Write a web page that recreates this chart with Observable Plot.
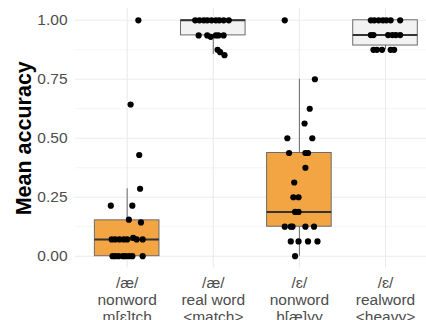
<!DOCTYPE html>
<html><head><meta charset="utf-8">
<script src="https://cdn.jsdelivr.net/npm/d3@7"></script>
<script src="https://cdn.jsdelivr.net/npm/@observablehq/plot@0.6"></script>
<style>
body{margin:0;background:#fff}
#chart svg{display:block}
g[aria-label="y-axis label"] text{font-size:21.5px;font-weight:bold;fill:#000}
</style></head><body><div id="chart"></div>
<script>
// Categories (x tick labels) and word type
const categories = ["/æ/\nnonword\nm[ɛ]tch", "/æ/\nreal word\n<match>", "/ɛ/\nnonword\nh[æ]vy", "/ɛ/\nrealword\n<heavy>"];
const wordType = ["nonword", "real word", "nonword", "real word"];

// Box statistics
const whiskerLow  = [0.000, 0.855, 0.000, 0.875];
const quartile1   = [0.000, 0.936, 0.125, 0.893];
const medians     = [0.071, 1.000, 0.1875, 0.9375];
const quartile3   = [0.152, 1.000, 0.4375, 1.000];
const whiskerHigh = [0.286, 1.000, 0.750, 1.000];

// Individual (jittered) points: values and horizontal jitter (category units)
const g1Values = [1.0, 0.643, 0.429, 0.286, 0.214, 0.214, 0.155, 0.143,
  0.071, 0.071, 0.071, 0.071, 0.071, 0.078, 0.071, 0.071,
  0, 0, 0, 0, 0, 0, 0, 0];
const g1Jitter = [0.13, 0.04, 0.14, 0.15, -0.19, 0.06, 0.02, 0.16,
  -0.18, -0.14, -0.09, -0.04, 0.0, 0.07, 0.11, 0.18,
  -0.17, -0.14, -0.10, -0.05, -0.02, 0.02, 0.06, 0.18];

const g2Values = [1, 1, 1, 1, 1, 1, 1, 1, 1,
  0.936, 0.936, 0.930, 0.936, 0.936, 0.936,
  0.875, 0.865, 0.852];
const g2Jitter = [-0.21, -0.16, -0.11, -0.07, -0.02, 0.03, 0.07, 0.12, 0.18,
  -0.17, -0.07, -0.03, 0.03, 0.06, 0.12,
  0.05, 0.08, 0.13];

const g3Values = [1.0, 0.75, 0.625, 0.5625, 0.5, 0.5, 0.4375, 0.4375, 0.4375,
  0.375, 0.3125, 0.25, 0.25, 0.1875, 0.1875,
  0.125, 0.125, 0.125, 0.125, 0.125,
  0.0625, 0.0625, 0.0625, 0.0625, 0];
const g3Jitter = [-0.17, 0.18, 0.12, 0.06, -0.14, 0.15, -0.12, 0.07, 0.10,
  0.07, -0.06, -0.07, -0.01, -0.05, -0.01,
  -0.17, -0.10, -0.08, 0.07, 0.17,
  -0.10, -0.01, 0.10, 0.21, -0.05];

const g4Values = [1, 1, 1, 1, 1, 1, 1,
  0.9375, 0.9375, 0.9375, 0.9375, 0.9375, 0.9375,
  0.875, 0.875, 0.875, 0.875, 0.875];
const g4Jitter = [-0.17, -0.13, -0.08, -0.03, 0.01, 0.06, 0.17,
  -0.17, -0.14, 0.03, 0.08, 0.12, 0.17,
  -0.14, -0.10, -0.04, 0.06, 0.10];

const majorTicks = [0, 0.25, 0.5, 0.75, 1];
const minorTicks = [0.125, 0.375, 0.625, 0.875];

// Build tables
const boxes = categories.map((c, i) => ({
  pos: i + 1, type: wordType[i],
  lo: whiskerLow[i], q1: quartile1[i], med: medians[i], q3: quartile3[i], hi: whiskerHigh[i]
}));
const groups = [[g1Values, g1Jitter], [g2Values, g2Jitter], [g3Values, g3Jitter], [g4Values, g4Jitter]];
const points = groups.flatMap(([vals, jit], i) => vals.map((v, j) => ({x: i + 1 + jit[j], y: v})));

const half = 0.375;
const chart = Plot.plot({
  width: 426, height: 320,
  marginLeft: 75, marginRight: 0, marginTop: 8, marginBottom: 52.5,
  style: {fontFamily: "'Liberation Sans', Arial, sans-serif", fontSize: "15.5px", background: "#fff", color: "#4d4d4d"},
  x: {domain: [0.4, 4.476]},
  y: {domain: [-0.05, 1.05]},
  color: {domain: ["nonword", "real word"], range: ["#F3A443", "#F2F2F2"]},
  marks: [
    Plot.gridY(minorTicks, {stroke: "#eeeeee", strokeOpacity: 1, strokeWidth: 0.6}),
    Plot.gridY(majorTicks, {stroke: "#ebebeb", strokeOpacity: 1, strokeWidth: 1.1}),
    Plot.gridX([1, 2, 3, 4], {stroke: "#ebebeb", strokeOpacity: 1, strokeWidth: 1.1}),
    Plot.ruleX(boxes, {x: "pos", y1: "lo", y2: "hi", stroke: "#6b6b6b", strokeWidth: 1}),
    Plot.rect(boxes, {x1: d => d.pos - half, x2: d => d.pos + half, y1: "q1", y2: "q3", fill: "type", stroke: "#6b6b6b", strokeWidth: 1}),
    Plot.ruleY(boxes, {y: "med", x1: d => d.pos - half, x2: d => d.pos + half, stroke: "#333", strokeWidth: 2}),
    Plot.dot(points, {x: "x", y: "y", r: 3.1, fill: "#000", stroke: null}),
    Plot.axisY(majorTicks, {tickSize: 0, tickPadding: 8, tickFormat: d3.format(".2f"),
      label: "Mean accuracy", labelAnchor: "center", labelArrow: "none", labelOffset: 60}),
    Plot.axisX([1, 2, 3, 4], {tickSize: 0, tickPadding: 8, tickFormat: d => categories[d - 1], lineHeight: 1.1, label: null})
  ]
});
document.getElementById("chart").appendChild(chart);
</script></body></html>
